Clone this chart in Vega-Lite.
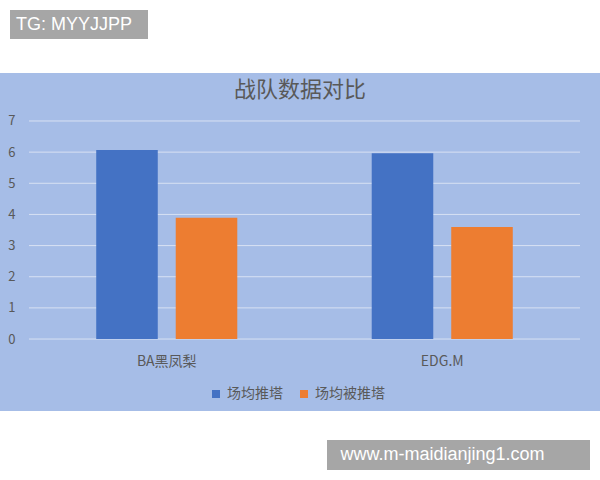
{
  "$schema": "https://vega.github.io/schema/vega-lite/v6.json",
  "background": "#FFFFFF",
  "padding": {"top": 10, "left": 0, "right": 0, "bottom": 0},
  "config": {"view": {"stroke": null}, "font": "Noto Sans CJK SC"},
  "spacing": 34,
  "vconcat": [
    {
      "spacing": 9,
      "hconcat": [
        {"width": 1, "height": 29, "data": {"values": [{"t": ""}]}, "mark": {"type": "text"}, "encoding": {"text": {"field": "t"}}},
        {
          "width": 138, "height": 29,
          "view": {"fill": "#A6A6A6", "stroke": null},
          "data": {"values": [{"t": "TG: MYYJJPP"}]},
          "mark": {"type": "text", "font": "Liberation Sans", "fontSize": 18, "color": "#FFFFFF", "dx": -5},
          "encoding": {"text": {"field": "t"}}
        }
      ]
    },
    {
      "spacing": 29,
      "vconcat": [
        {
          "width": 600, "height": 338,
          "view": {"fill": "#A6BDE7", "stroke": null},
          "layer": [
            {
              "data": {"values": [{"v": 0}, {"v": 1}, {"v": 2}, {"v": 3}, {"v": 4}, {"v": 5}, {"v": 6}, {"v": 7}]},
              "mark": {"type": "rule", "color": "#D8E1F3", "strokeWidth": 1},
              "encoding": {
                "y": {
                  "field": "v", "type": "quantitative", "scale": {"domain": [-2.31, 8.54], "nice": false, "zero": false},
                  "axis": {"values": [0, 1, 2, 3, 4, 5, 6, 7], "grid": false, "domain": false, "ticks": false, "offset": -17, "labelPadding": 2, "title": null, "labelFontSize": 13, "labelColor": "#595959"}
                },
                "x": {"datum": 0, "type": "quantitative", "scale": {"domain": [0, 1], "range": [29, 580]}, "axis": null},
                "x2": {"datum": 1}
              }
            },
            {
              "data": {"values": [{"t": "战队数据对比"}]},
              "mark": {"type": "text", "fontSize": 22, "color": "#595959", "font": "Noto Sans CJK SC"},
              "encoding": {
                "text": {"field": "t"},
                "y": {"datum": 7.98, "type": "quantitative", "scale": {"domain": [-2.31, 8.54], "nice": false, "zero": false}}
              }
            },
            {
              "data": {"values": [
                {"team": "BA黑凤梨", "metric": "场均推塔", "value": 6.07},
                {"team": "BA黑凤梨", "metric": "场均被推塔", "value": 3.89},
                {"team": "EDG.M", "metric": "场均推塔", "value": 5.96},
                {"team": "EDG.M", "metric": "场均被推塔", "value": 3.6}
              ]},
              "mark": {"type": "bar"},
              "encoding": {
                "x": {
                  "field": "team", "type": "nominal", "sort": ["BA黑凤梨", "EDG.M"],
                  "scale": {"range": [29, 580], "paddingInner": 0.488, "paddingOuter": 0.244},
                  "axis": {"orient": "bottom", "offset": -72, "title": null, "labelAngle": 0, "ticks": false, "domain": false, "labelPadding": 15, "labelFontSize": 14, "labelColor": "#595959", "labelFont": "Noto Sans CJK SC"}
                },
                "xOffset": {"field": "metric", "type": "nominal", "sort": ["场均推塔", "场均被推塔"], "scale": {"paddingInner": 0.226, "paddingOuter": 0}},
                "y": {
                  "field": "value", "type": "quantitative", "scale": {"domain": [-2.31, 8.54], "nice": false, "zero": false},
                  "axis": {"values": [0, 1, 2, 3, 4, 5, 6, 7], "grid": false, "domain": false, "ticks": false, "offset": -17, "labelPadding": 2, "title": null, "labelFontSize": 13, "labelColor": "#595959"}
                },
                "y2": {"datum": 0},
                "color": {
                  "field": "metric", "type": "nominal",
                  "scale": {"domain": ["场均推塔", "场均被推塔"], "range": ["#4472C4", "#ED7D31"]},
                  "legend": {"orient": "none", "legendX": 209, "legendY": 377, "direction": "horizontal", "title": null, "symbolType": "square", "symbolSize": 64, "symbolStrokeWidth": 0, "labelFontSize": 14, "labelColor": "#595959", "columnPadding": 14, "labelOffset": 4}
                }
              }
            }
          ],
          "resolve": {"scale": {"x": "independent"}}
        },
        {
          "spacing": 326,
          "hconcat": [
            {"width": 1, "height": 30, "data": {"values": [{"t": ""}]}, "mark": {"type": "text"}, "encoding": {"text": {"field": "t"}}},
            {
              "width": 263, "height": 30,
              "view": {"fill": "#A6A6A6", "stroke": null},
              "data": {"values": [{"t": "www.m-maidianjing1.com"}]},
              "mark": {"type": "text", "font": "Liberation Sans", "fontSize": 18, "color": "#FFFFFF", "dx": -16},
              "encoding": {"text": {"field": "t"}}
            }
          ]
        }
      ]
    }
  ]
}
